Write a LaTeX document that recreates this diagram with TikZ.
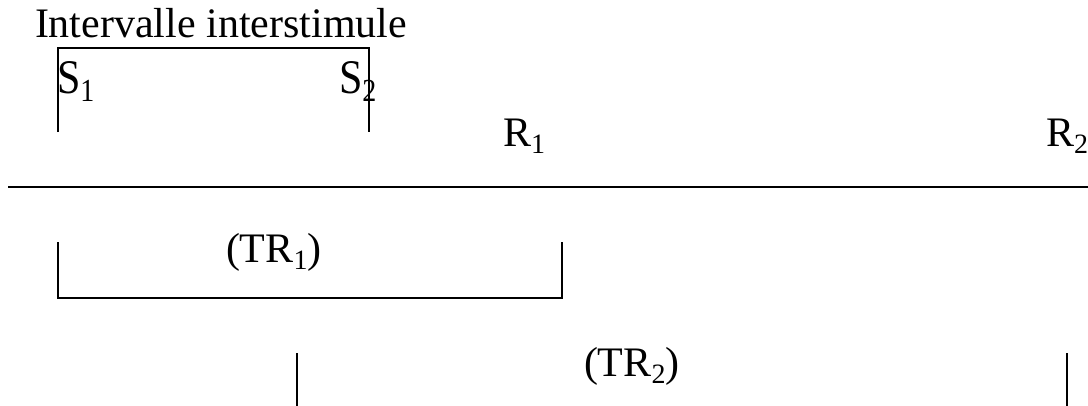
\documentclass[tikz,border=0pt]{standalone}
\usepackage{fontspec}
\setmainfont{Liberation Serif}
\newcommand{\sbx}[1]{\raisebox{-0.18em}{\fontsize{28}{28}\selectfont #1}}
\begin{document}
\begin{tikzpicture}[x=1pt,y=-1pt,
  lbl/.style={anchor=base west,inner sep=0pt,outer sep=0pt,font=\fontsize{42}{42}\selectfont},
  ln/.style={line width=1.5pt,black}]
\useasboundingbox (0,0) rectangle (1088,405);
\node[lbl] (title) at (35,37) {Intervalle interstimule};
\node[lbl,yscale=1.15] (s1) at (57,93) {S\sbx{1}};
\node[lbl,yscale=1.15] (s2) at (339,93) {S\sbx{2}};
\node[lbl] (r1) at (503,146) {R\sbx{1}};
\node[lbl] (r2) at (1046,146) {R\sbx{2}};
\node[lbl] (tr1) at (226,262) {(TR\sbx{1})};
\node[lbl] (tr2) at (584,376) {(TR\sbx{2})};
% interstimulus bracket
\coordinate (a1) at (58,132);
\coordinate (a2) at (58,48);
\coordinate (a3) at (369,48);
\coordinate (a4) at (369,132);
\draw[ln] (a1) -- (a2) -- (a3) -- (a4);
% time axis
\coordinate (t0) at (8,187);
\coordinate (t1) at (1088,187);
\draw[ln] (t0) -- (t1);
% TR1 bracket
\coordinate (b1) at (58,242);
\coordinate (b2) at (58,298);
\coordinate (b3) at (562,298);
\coordinate (b4) at (562,242);
\draw[ln] (b1) -- (b2) -- (b3) -- (b4);
% TR2 bracket
\coordinate (c1) at (297,353);
\coordinate (c2) at (297,410);
\coordinate (c3) at (1067,353);
\coordinate (c4) at (1067,410);
\draw[ln] (c1) -- (c2);
\draw[ln] (c3) -- (c4);
\end{tikzpicture}
\end{document}
